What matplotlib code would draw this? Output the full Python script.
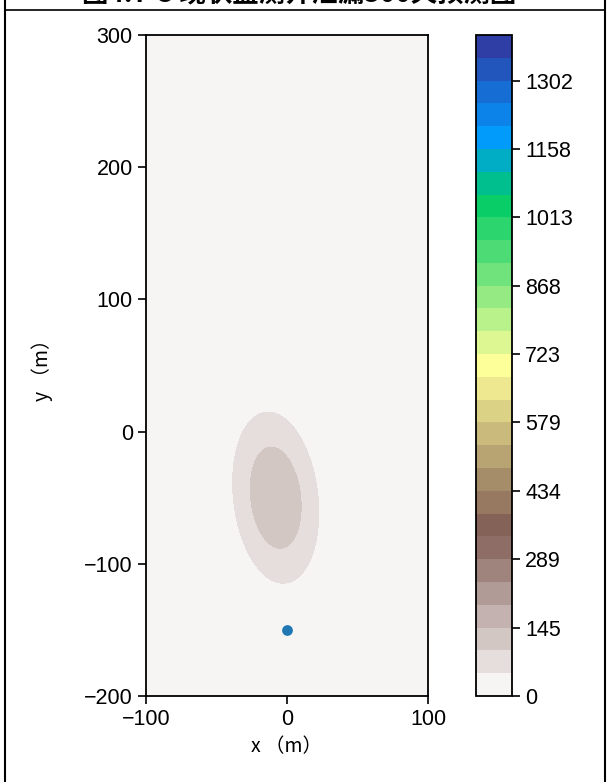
#!/usr/bin/env python3

"""plume concentration contour map after 300 days"""

import numpy as np
import matplotlib
matplotlib.use("Agg")
import matplotlib.pyplot as plt
from matplotlib.lines import Line2D

plt.rcParams["font.family"] = ["Liberation Sans", "Noto Sans CJK SC", "DejaVu Sans"]

title = "图4.7-3 现状监测井泄漏300天预测图"
x_label = "x （m）"
y_label = "y （m）"

# plume
peak = 140.0          # max concentration
center = (-8.0, -50.0)  # plume centre (m)
sigma = (20.5, 44.5)    # spread across / along (m)
tilt_deg = 6.0          # top of plume leans left

well = (0.0, -150.0)

level_max = 1398.7
n_bands = 29
cbar_ticklabels = ["0", "145", "289", "434", "579", "723", "868", "1013", "1158", "1302"]

x_ticks = [-100, 0, 100]
y_ticks = [-200, -100, 0, 100, 200, 300]


def main():
    fig = plt.figure(figsize=(6.07, 7.82), dpi=100)
    ax = fig.add_axes([0.2405, 0.1100, 0.4646, 0.8453])
    cax = fig.add_axes([0.7842, 0.1100, 0.0593, 0.8453])

    xs = np.linspace(-100, 100, 401)
    ys = np.linspace(-200, 300, 1001)
    X, Y = np.meshgrid(xs, ys)
    t = np.deg2rad(tilt_deg)
    dx, dy = X - center[0], Y - center[1]
    u = dx * np.cos(t) + dy * np.sin(t)
    v = -dx * np.sin(t) + dy * np.cos(t)
    C = peak * np.exp(-(u ** 2 / (2 * sigma[0] ** 2) + v ** 2 / (2 * sigma[1] ** 2)))

    levels = np.linspace(0, level_max, n_bands + 1)
    cs = ax.contourf(X, Y, C, levels=levels, cmap="terrain_r")
    ax.scatter([well[0]], [well[1]], s=45, color="#1f77b4", zorder=3)

    ax.set_xlim(-100, 100)
    ax.set_ylim(-200, 300)
    ax.set_xticks(x_ticks)
    ax.set_yticks(y_ticks)
    ax.tick_params(labelsize=15.5, length=6, width=1.2)
    for sp in ax.spines.values():
        sp.set_linewidth(1.3)
    ax.set_xlabel(x_label, fontsize=14, family=["Noto Sans CJK SC"], labelpad=4)
    ax.set_ylabel(y_label, fontsize=14, family=["Noto Sans CJK SC"], labelpad=22)

    cb = fig.colorbar(cs, cax=cax)
    cb.set_ticks(levels[::3])
    cb.set_ticklabels(cbar_ticklabels)
    cb.ax.tick_params(labelsize=15.5, length=6, width=1.2)
    cb.outline.set_linewidth(1.3)

    # page frame and title cut off at the top
    fig.add_artist(Line2D([5 / 607, 5 / 607], [0, 1], color="black", lw=1.5))
    fig.add_artist(Line2D([605 / 607, 605 / 607], [0, 1], color="black", lw=1.5))
    fig.add_artist(Line2D([5 / 607, 605 / 607], [1 - 10 / 782, 1 - 10 / 782], color="black", lw=1.2))
    fig.text(0.492, 1 - 8 / 782, title, ha="center", va="bottom", fontsize=19,
             fontweight="bold", family=["Noto Sans CJK SC"])

    fig.savefig("out.png", dpi=100, facecolor="white")


main()
